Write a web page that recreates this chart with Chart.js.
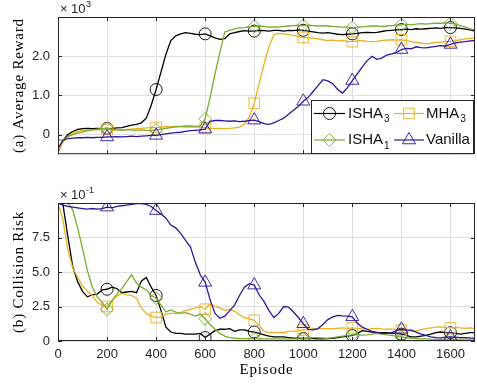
<!DOCTYPE html>
<html>
<head>
<meta charset="utf-8">
<script src="https://cdn.jsdelivr.net/npm/chart.js@4/dist/chart.umd.min.js"></script>
<style>
  body { margin: 0; background: #fff; }
  #wrap { position: relative; width: 477px; height: 384px; }
  canvas { position: absolute; left: 0; }
</style>
</head>
<body>
<div id="wrap">
  <canvas id="top" width="477" height="170" style="top:0"></canvas>
  <canvas id="bottom" width="477" height="214" style="top:170px"></canvas>
</div>
<script>
// episodes, every 20
const episodes = Array.from({length: 86}, (_, i) => i * 20);
const xTicks = [0, 200, 400, 600, 800, 1000, 1200, 1400, 1600];

// (a) average reward, x 10^3
const rewardTicks = [0, 1, 2];
const rewardISHA3 = [-0.45,-0.15,0.0,0.08,0.13,0.15,0.16,0.15,0.16,0.15,
  0.16,0.15,0.17,0.18,0.21,0.24,0.26,0.3,0.42,0.75,
  1.15,1.6,2.05,2.4,2.52,2.57,2.6,2.58,2.56,2.55,
  2.57,2.52,2.47,2.43,2.45,2.57,2.6,2.63,2.65,2.64,
  2.64,2.66,2.65,2.64,2.66,2.66,2.64,2.66,2.65,2.67,
  2.66,2.64,2.62,2.6,2.59,2.6,2.58,2.56,2.55,2.56,
  2.57,2.58,2.6,2.61,2.6,2.61,2.63,2.65,2.66,2.67,
  2.68,2.69,2.68,2.7,2.69,2.7,2.71,2.72,2.71,2.73,
  2.73,2.72,2.71,2.69,2.67,2.64];
const rewardMHA3 = [-0.42,-0.2,-0.05,0.04,0.08,0.1,0.11,0.12,0.12,0.13,
  0.13,0.12,0.13,0.12,0.13,0.14,0.15,0.16,0.17,0.18,
  0.18,0.19,0.2,0.2,0.21,0.2,0.19,0.19,0.2,0.19,
  0.17,0.16,0.15,0.16,0.15,0.16,0.17,0.19,0.26,0.45,
  0.8,1.3,1.8,2.25,2.55,2.58,2.57,2.55,2.53,2.5,
  2.48,2.47,2.46,2.44,2.42,2.4,2.41,2.39,2.4,2.38,
  2.37,2.39,2.4,2.38,2.37,2.38,2.4,2.41,2.42,2.41,
  2.42,2.4,2.37,2.35,2.33,2.32,2.33,2.35,2.36,2.37,
  2.38,2.4,2.42,2.44,2.45,2.46];
const rewardISHA1 = [-0.12,-0.15,-0.05,0.0,0.04,0.07,0.1,0.12,0.14,0.15,
  0.16,0.14,0.12,0.11,0.12,0.12,0.11,0.12,0.11,0.1,
  0.12,0.14,0.16,0.18,0.2,0.21,0.22,0.22,0.21,0.22,
  0.4,0.95,1.55,2.1,2.62,2.66,2.7,2.72,2.73,2.75,
  2.76,2.77,2.76,2.74,2.75,2.74,2.76,2.77,2.78,2.79,
  2.78,2.79,2.78,2.77,2.78,2.77,2.76,2.75,2.74,2.74,
  2.73,2.74,2.75,2.76,2.77,2.77,2.76,2.77,2.78,2.79,
  2.8,2.81,2.8,2.82,2.83,2.82,2.83,2.84,2.84,2.85,
  2.84,2.82,2.78,2.74,2.7,2.67];
const rewardVanilla = [-0.35,-0.15,-0.1,-0.09,-0.08,-0.08,-0.07,-0.08,-0.07,-0.07,
  -0.06,-0.06,-0.05,-0.06,-0.05,-0.04,-0.05,-0.04,-0.03,-0.02,
  -0.02,0.0,0.02,0.04,0.05,0.06,0.08,0.1,0.11,0.12,
  0.14,0.34,0.36,0.36,0.35,0.34,0.35,0.33,0.34,0.36,
  0.37,0.33,0.28,0.26,0.3,0.36,0.42,0.52,0.62,0.72,
  0.85,0.95,1.1,1.25,1.4,1.37,1.3,1.15,1.06,1.2,
  1.38,1.55,1.72,1.88,2.0,1.92,1.95,2.03,2.06,2.1,
  2.17,2.2,2.19,2.24,2.22,2.21,2.23,2.25,2.27,2.26,
  2.3,2.34,2.36,2.37,2.39,2.4];

// (b) collision risk, x 10^-1
const riskTicks = [0, 2.5, 5, 7.5];
const riskISHA3 = [10,9.9,7.6,5.4,4.3,3.6,3.2,3.35,3.4,3.7,
  3.75,3.9,3.8,3.5,3.55,3.6,3.5,4.35,4.6,3.9,
  3.3,2.2,1.0,0.65,0.55,0.55,0.5,0.5,0.5,0.55,
  0.25,0.5,0.75,0.85,0.85,0.9,0.7,0.8,0.8,0.7,
  0.65,0.55,0.45,0.35,0.3,0.3,0.3,0.25,0.2,0.2,
  0.18,0.2,0.18,0.15,0.15,0.17,0.2,0.25,0.3,0.35,
  0.4,0.55,0.75,0.7,0.65,0.62,0.6,0.6,0.55,0.55,
  0.5,0.4,0.3,0.3,0.35,0.4,0.5,0.6,0.65,0.6,
  0.6,0.55,0.5,0.55,0.6,0.6];
const riskMHA3 = [10,8.8,6.6,5.3,4.6,4.0,3.6,3.3,2.8,2.6,
  2.5,2.95,3.25,3.45,3.35,3.3,3.1,2.4,2.0,1.8,
  1.7,1.75,1.95,2.0,2.0,2.05,2.2,2.3,2.4,2.5,
  2.3,2.7,2.5,2.4,2.2,2.3,2.15,1.9,1.7,1.6,
  1.5,1.1,0.7,0.6,0.6,0.62,0.6,0.7,0.72,0.75,
  0.8,0.85,0.9,0.88,0.92,0.9,0.88,0.92,0.95,0.92,
  0.95,0.92,0.88,0.85,0.9,0.92,0.88,0.85,0.88,0.82,
  0.78,0.75,0.72,0.75,0.82,0.9,0.95,1.0,1.02,0.98,
  0.95,0.98,0.95,0.92,0.95,0.9];
const riskISHA1 = [10,10,10,9.5,8.2,6.7,5.1,3.9,3.2,2.8,
  2.3,2.9,3.4,3.8,4.3,4.8,4.2,3.9,3.7,3.3,
  3.1,2.6,2.1,2.25,2.1,2.0,2.05,1.95,1.8,1.95,
  1.6,1.2,0.85,0.55,0.35,0.25,0.2,0.18,0.17,0.17,
  0.15,0.15,0.15,0.16,0.15,0.15,0.16,0.15,0.15,0.15,
  0.17,0.2,0.25,0.25,0.22,0.2,0.25,0.3,0.35,0.4,
  0.45,0.45,0.42,0.45,0.5,0.55,0.5,0.45,0.4,0.35,
  0.3,0.25,0.2,0.18,0.15,0.15,0.13,0.12,0.12,0.12,
  0.12,0.12,0.13,0.13,0.14,0.15];
const riskVanilla = [10,9.85,9.75,9.7,9.65,9.6,9.55,9.6,9.55,9.6,
  9.7,9.65,9.75,9.8,9.85,9.9,9.95,9.95,9.9,9.75,
  9.45,9.2,8.9,8.4,8.2,7.8,7.3,6.8,5.7,4.8,
  4.25,3.0,2.0,1.65,1.8,2.2,2.6,3.3,3.9,4.15,
  4.05,3.35,2.85,2.2,1.7,2.0,2.5,2.45,2.1,1.7,
  1.25,0.85,0.8,0.9,1.2,1.55,1.75,1.85,1.82,1.8,
  1.75,1.3,1.0,0.85,0.7,0.62,0.55,0.55,0.6,0.75,
  0.85,0.8,0.78,0.65,0.5,0.4,0.3,0.25,0.22,0.28,
  0.3,0.28,0.25,0.25,0.22,0.2];

const methods = [
  {name: 'ISHA', sub: '3', color: '#000000', style: 'circle', r: 6},
  {name: 'MHA', sub: '3', color: '#EDB120', style: 'rect', r: 7.5},
  {name: 'ISHA', sub: '1', color: '#77AC30', style: 'rectRot', r: 6.5},
  {name: 'Vanilla', sub: '', color: '#32149c', style: 'triangle', r: 7.5}
];

const axisColor = '#262626';
const gridColor = '#dfdfdf';
const sans = "'Liberation Sans', Arial, sans-serif";
const serif = "'Liberation Serif', 'Times New Roman', serif";

function makeDatasets(series) {
  // reverse so Vanilla ends up drawn on top
  return series.map((vals, k) => {
    const m = methods[k];
    return {
      label: m.name + m.sub,
      data: episodes.map((e, i) => ({x: e, y: vals[i]})),
      borderColor: m.color,
      borderWidth: 1.3,
      pointStyle: m.style,
      pointRadius: c => (c.dataIndex > 0 && c.dataIndex % 10 === 0) ? m.r : 0,
      pointBorderColor: m.color,
      pointBackgroundColor: 'rgba(0,0,0,0)',
      pointBorderWidth: 0.9,
      tension: 0,
      order: 4 - k
    };
  });
}

function drawMarker(ctx, style, x, y, r) {
  ctx.beginPath();
  if (style === 'circle') {
    ctx.arc(x, y, r, 0, Math.PI * 2);
  } else if (style === 'rect') {
    const s = r * Math.SQRT1_2;
    ctx.rect(x - s, y - s, 2 * s, 2 * s);
  } else if (style === 'rectRot') {
    ctx.moveTo(x, y - r); ctx.lineTo(x + r, y); ctx.lineTo(x, y + r); ctx.lineTo(x - r, y); ctx.closePath();
  } else {
    const h = r * Math.sin(Math.PI / 3);
    ctx.moveTo(x, y - r); ctx.lineTo(x + h, y + r / 2); ctx.lineTo(x - h, y + r / 2); ctx.closePath();
  }
  ctx.stroke();
}

// box, inward ticks, titles, exponent, legend
const decor = {
  id: 'decor',
  afterDatasetsDraw(chart, args, o) {
    const {ctx, chartArea: a, scales: {x, y}} = chart;
    ctx.save();
    ctx.strokeStyle = axisColor;
    ctx.lineWidth = 1;
    ctx.beginPath();
    xTicks.forEach(v => {
      const px = Math.round(x.getPixelForValue(v)) + 0.5;
      ctx.moveTo(px, a.bottom); ctx.lineTo(px, a.bottom - 4);
      ctx.moveTo(px, a.top); ctx.lineTo(px, a.top + 4);
    });
    o.yt.forEach(v => {
      const py = Math.round(y.getPixelForValue(v)) + 0.5;
      ctx.moveTo(a.left, py); ctx.lineTo(a.left + 4, py);
      ctx.moveTo(a.right, py); ctx.lineTo(a.right - 4, py);
    });
    ctx.stroke();
    ctx.strokeRect(a.left + 0.5, a.top + 0.5, a.width - 1, a.height - 1);

    // y title
    ctx.fillStyle = '#000';
    ctx.font = '15px ' + serif;
    ctx.letterSpacing = '0.8px';
    ctx.textAlign = 'center';
    ctx.textBaseline = 'middle';
    ctx.save();
    ctx.translate(19, (a.top + a.bottom) / 2);
    ctx.rotate(-Math.PI / 2);
    ctx.fillText(o.ytitle, 0, 0);
    ctx.restore();
    if (o.xtitle) ctx.fillText(o.xtitle, (a.left + a.right) / 2, o.xtitleY);
    ctx.letterSpacing = '0px';

    // exponent
    ctx.fillStyle = axisColor;
    ctx.textAlign = 'left';
    ctx.textBaseline = 'alphabetic';
    const base = a.top - 4;
    ctx.font = '13px ' + sans;
    ctx.fillText('\u00d7', 60, base);
    ctx.fillText('10', 71, base);
    const w = ctx.measureText('10').width;
    ctx.font = '9px ' + sans;
    ctx.fillText(o.exp, 71 + w + 0.5, base - 6);

    if (o.legend) {
      const L = {x: 311, y: 100, w: 162, h: 53};
      ctx.fillStyle = '#fff';
      ctx.fillRect(L.x, L.y, L.w, L.h);
      ctx.strokeStyle = axisColor;
      ctx.lineWidth = 1;
      ctx.strokeRect(L.x + 0.5, L.y + 0.5, L.w, L.h);
      const cols = [{x0: 314, x1: 345, tx: 348}, {x0: 394, x1: 424, tx: 426}];
      const rows = [113.5, 140];
      methods.forEach((m, k) => {
        const c = cols[k % 2], ry = rows[Math.floor(k / 2)];
        ctx.strokeStyle = m.color;
        ctx.lineWidth = 1.2;
        ctx.beginPath(); ctx.moveTo(c.x0, ry); ctx.lineTo(c.x1, ry); ctx.stroke();
        ctx.lineWidth = 0.9;
        drawMarker(ctx, m.style, (c.x0 + c.x1) / 2, ry, m.r);
        ctx.fillStyle = '#111';
        ctx.font = '15px ' + sans;
        ctx.textBaseline = 'middle';
        ctx.fillText(m.name, c.tx, ry);
        if (m.sub) {
          const tw = ctx.measureText(m.name).width;
          ctx.font = '10px ' + sans;
          ctx.fillText(m.sub, c.tx + tw + 1, ry + 6);
        }
      });
    }
    ctx.restore();
  }
};

function makeChart(id, series, cfg) {
  return new Chart(document.getElementById(id), {
    type: 'line',
    data: {datasets: makeDatasets(series)},
    options: {
      responsive: false,
      animation: false,
      devicePixelRatio: 1,
      layout: {padding: {top: cfg.padTop, right: 2, left: 0, bottom: 0}},
      plugins: {
        legend: {display: false},
        tooltip: {enabled: false},
        decor: cfg.decor
      },
      scales: {
        x: {
          type: 'linear', min: 0, max: 1700,
          afterBuildTicks: s => { s.ticks = xTicks.map(v => ({value: v})); },
          afterFit: s => { s.height = cfg.xHeight; },
          grid: {color: gridColor, drawTicks: false},
          border: {display: false},
          ticks: {
            display: cfg.showX, padding: 6, color: axisColor,
            font: {family: sans, size: 13},
            callback: v => String(v)
          }
        },
        y: {
          min: cfg.ymin, max: cfg.ymax,
          afterBuildTicks: s => { s.ticks = cfg.decor.yt.map(v => ({value: v})); },
          afterFit: s => { s.width = 58; },
          grid: {color: gridColor, drawTicks: false},
          border: {display: false},
          ticks: {
            padding: 8, color: axisColor,
            font: {family: sans, size: 13},
            callback: v => v === 0 ? '0' : v.toFixed(1)
          }
        }
      }
    },
    plugins: [decor]
  });
}

makeChart('top', [rewardISHA3, rewardMHA3, rewardISHA1, rewardVanilla], {
  padTop: 17, xHeight: 15, showX: false, ymin: -0.5, ymax: 3,
  decor: {yt: rewardTicks, ytitle: '(a) Average Reward', exp: '3', legend: true}
});

makeChart('bottom', [riskISHA3, riskMHA3, riskISHA1, riskVanilla], {
  padTop: 33, xHeight: 43, showX: true, ymin: 0, ymax: 10,
  decor: {yt: riskTicks, ytitle: '(b) Collision Risk', exp: '-1', xtitle: 'Episode', xtitleY: 200}
});
</script>
</body>
</html>
